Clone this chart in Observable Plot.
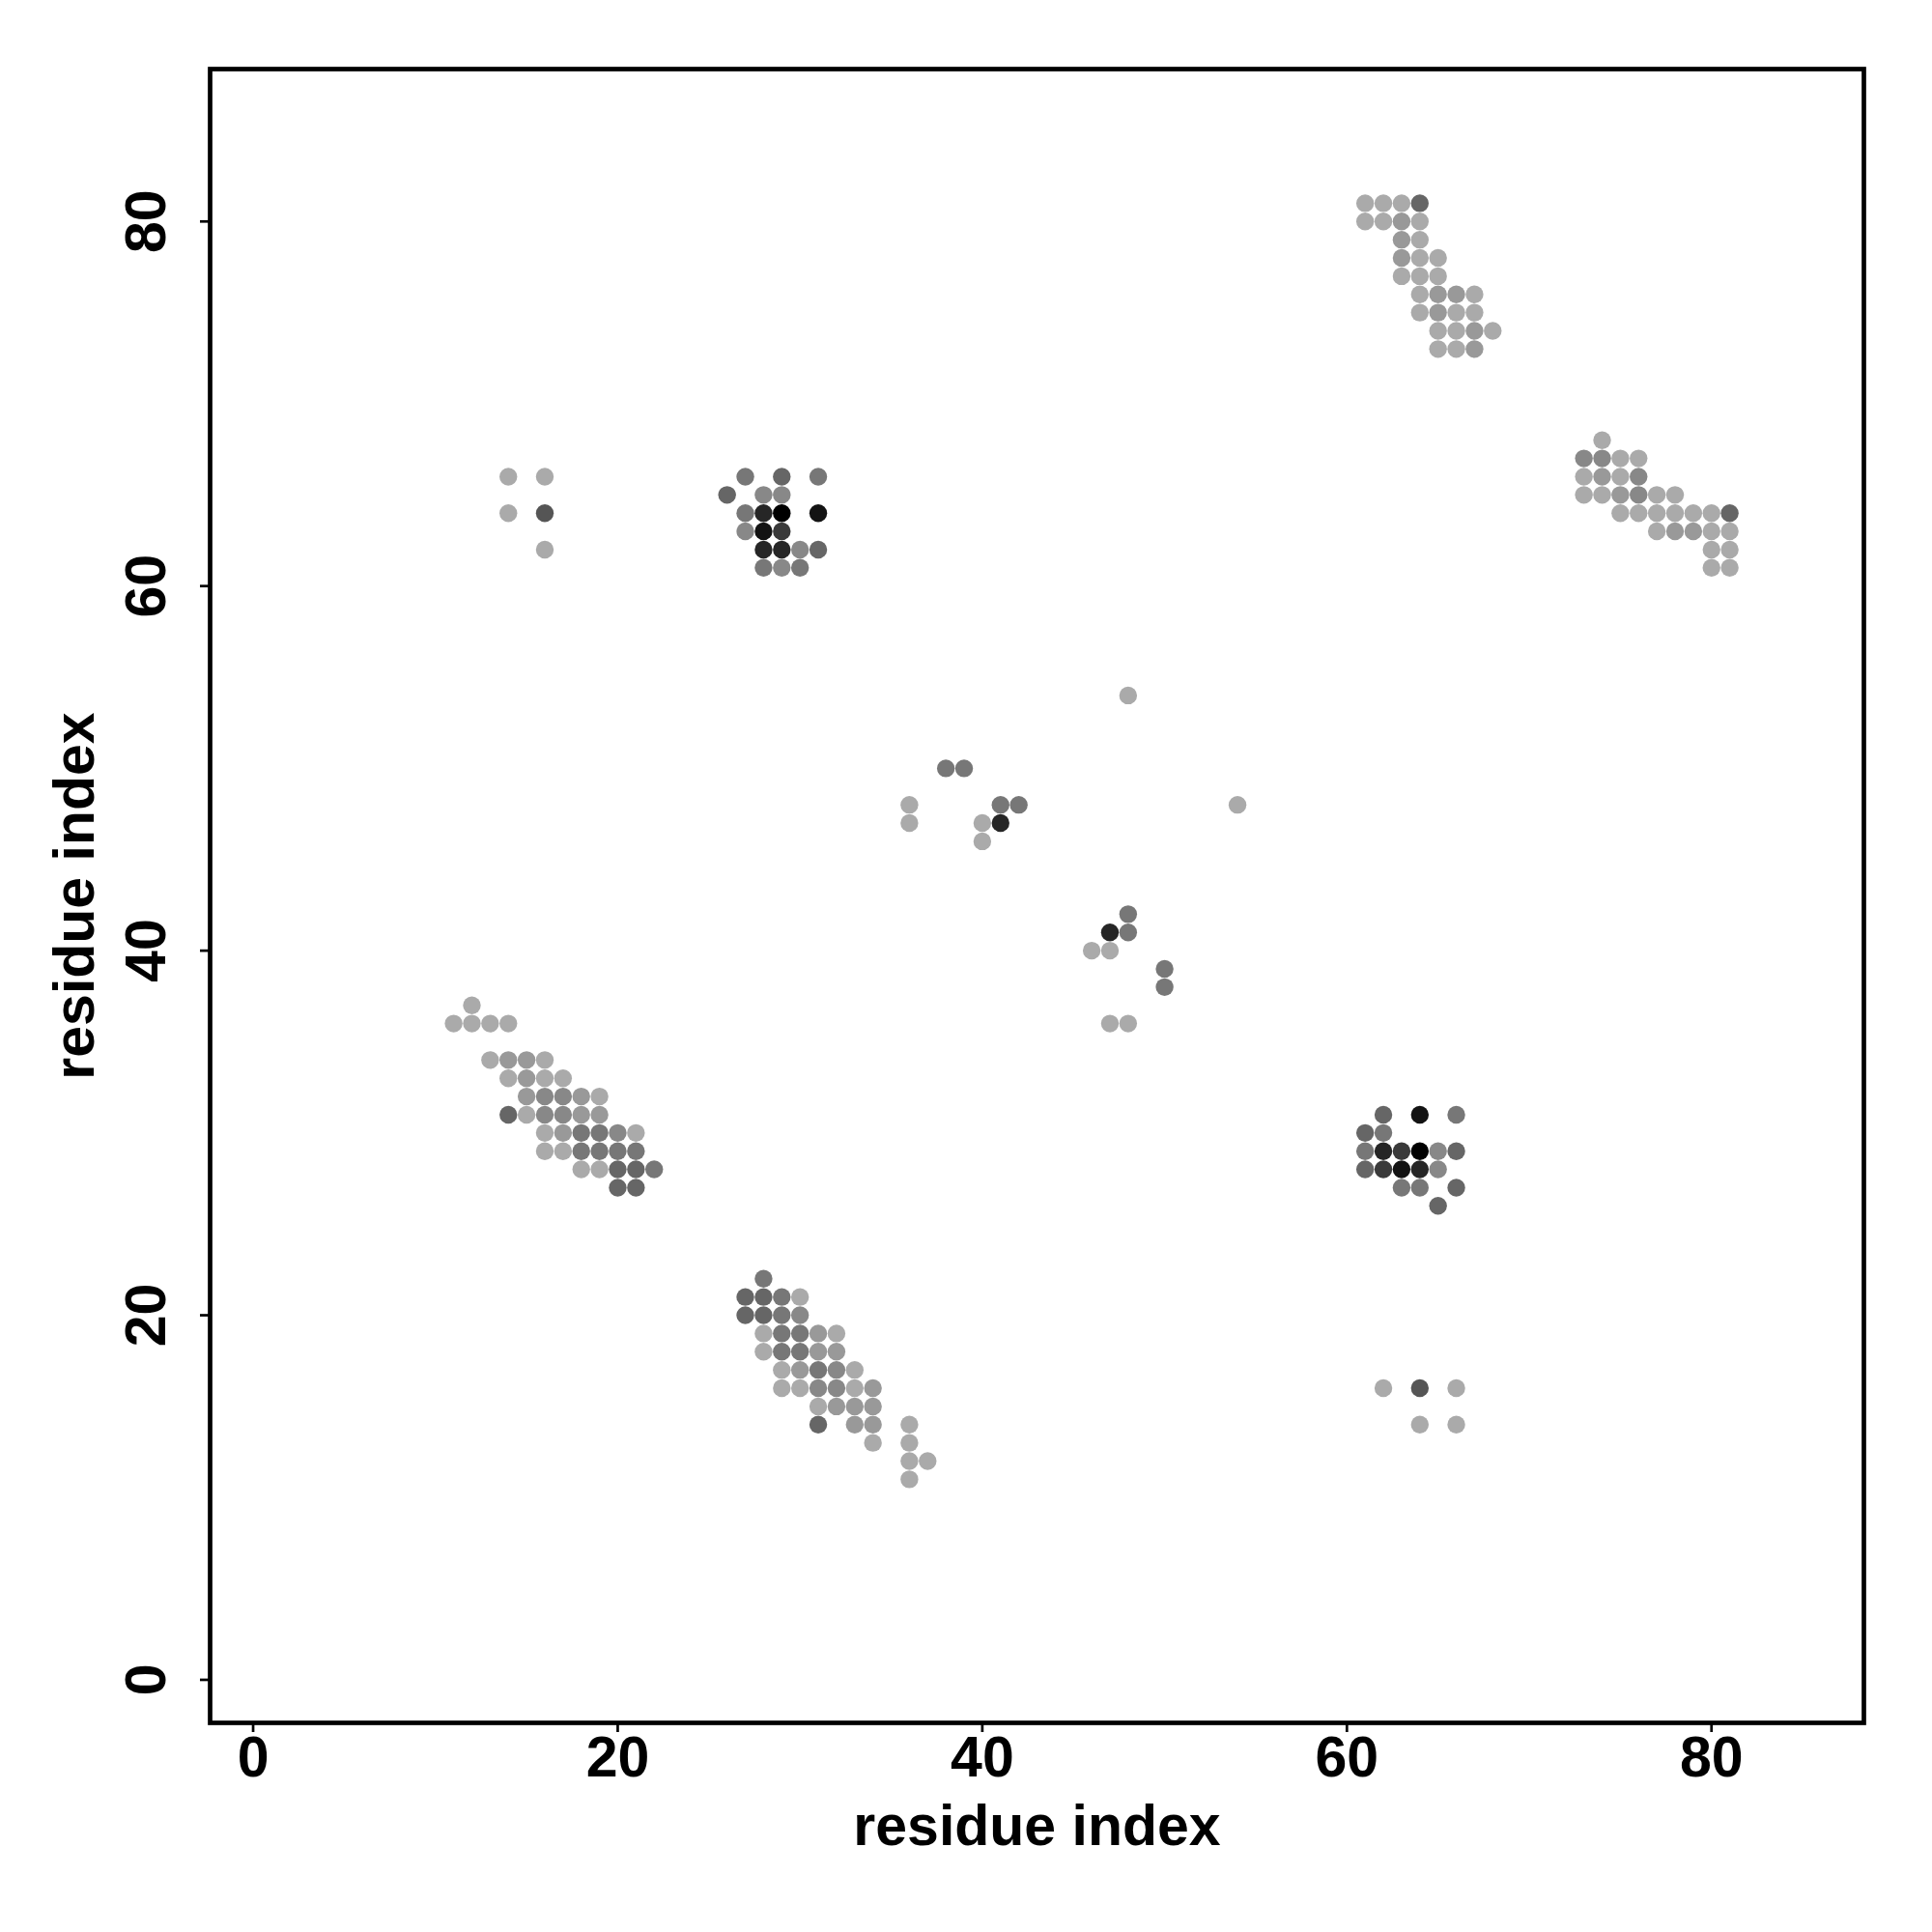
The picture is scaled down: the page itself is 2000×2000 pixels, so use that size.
<!DOCTYPE html>
<html>
<head>
<meta charset="utf-8">
<script src="https://cdn.jsdelivr.net/npm/d3@7"></script>
<script src="https://cdn.jsdelivr.net/npm/@observablehq/plot@0.6"></script>
<style>
  body { margin: 0; background: #ffffff; }
</style>
</head>
<body>
<div id="chart"></div>
<script>
// Each contact: [residue i, residue j, shade level 1 (light) .. 10 (black)]
const helixPairTop = [
  [61,81,1],[62,81,1],[63,81,1],[64,81,5],
  [61,80,1],[62,80,1],[63,80,2],[64,80,1],
  [63,79,2],[64,79,1],
  [63,78,2],[64,78,1],[65,78,1],
  [63,77,1],[64,77,1],[65,77,1],
  [64,76,1],[65,76,2],[66,76,2],[67,76,1],
  [64,75,1],[65,75,2],[66,75,1],[67,75,1],
  [65,74,1],[66,74,1],[67,74,2],[68,74,1],
  [65,73,1],[66,73,1],[67,73,2]
];
const helixPairRight = [
  [74,68,1],
  [73,67,3],[74,67,3],[75,67,1],[76,67,1],
  [73,66,1],[74,66,2],[75,66,1],[76,66,3],
  [73,65,1],[74,65,1],[75,65,2],[76,65,3],[77,65,1],[78,65,1],
  [75,64,1],[76,64,1],[77,64,1],[78,64,1],[79,64,1],[80,64,1],[81,64,5],
  [77,63,1],[78,63,2],[79,63,2],[80,63,1],[81,63,1],
  [80,62,1],[81,62,1],
  [80,61,1],[81,61,1]
];
const patchUpperLeft = [[14,66,1],[16,66,1],[14,64,1],[16,64,6],[16,62,1]];
const patchUpperMid = [
  [27,66,4],[29,66,5],[31,66,4],
  [26,65,5],[28,65,3],[29,65,3],
  [27,64,4],[28,64,8],[29,64,10],[31,64,9],
  [27,63,3],[28,63,9],[29,63,7],
  [28,62,8],[29,62,8],[30,62,3],[31,62,5],
  [28,61,4],[29,61,3],[30,61,4]
];
const patchCentre = [
  [48,54,1],[38,50,4],[39,50,4],[36,48,1],[41,48,4],[42,48,4],[54,48,1],
  [36,47,1],[40,47,1],[41,47,8],[40,46,1]
];
const patchCentreLow = [
  [48,42,4],[47,41,8],[48,41,4],[46,40,1],[47,40,1],[50,39,4],[50,38,4],[47,36,1],[48,36,1]
];
const helixPairLeft = [
  [12,37,1],
  [11,36,1],[12,36,1],[13,36,1],[14,36,1],
  [13,34,1],[14,34,2],[15,34,2],[16,34,1],
  [14,33,1],[15,33,2],[16,33,1],[17,33,1],
  [15,32,2],[16,32,3],[17,32,3],[18,32,2],[19,32,1],
  [14,31,5],[15,31,1],[16,31,3],[17,31,3],[18,31,2],[19,31,2],
  [16,30,1],[17,30,2],[18,30,4],[19,30,4],[20,30,3],[21,30,1],
  [16,29,1],[17,29,1],[18,29,4],[19,29,4],[20,29,4],[21,29,4],
  [18,28,1],[19,28,1],[20,28,5],[21,28,5],[22,28,4],
  [20,27,5],[21,27,5]
];
const patchRightMid = [
  [62,31,5],[64,31,9],[66,31,4],
  [61,30,5],[62,30,4],
  [61,29,4],[62,29,8],[63,29,7],[64,29,10],[65,29,3],[66,29,5],
  [61,28,5],[62,28,7],[63,28,9],[64,28,8],[65,28,3],
  [63,27,4],[64,27,4],[66,27,5],
  [65,26,5]
];
const helixPairBottom = [
  [28,22,4],
  [27,21,5],[28,21,5],[29,21,4],[30,21,1],
  [27,20,5],[28,20,5],[29,20,4],[30,20,3],
  [28,19,1],[29,19,4],[30,19,4],[31,19,2],[32,19,1],
  [28,18,1],[29,18,4],[30,18,4],[31,18,2],[32,18,2],
  [29,17,1],[30,17,2],[31,17,4],[32,17,3],[33,17,1],
  [29,16,1],[30,16,1],[31,16,3],[32,16,3],[33,16,1],[34,16,2],
  [31,15,1],[32,15,2],[33,15,2],[34,15,2],
  [31,14,5],[33,14,2],[34,14,2],[36,14,1],
  [34,13,1],[36,13,1],
  [36,12,1],[37,12,1],
  [36,11,1]
];
const patchLowerRight = [[62,16,1],[64,16,6],[66,16,1],[64,14,1],[66,14,1]];

const shadeLevels = [1,2,3,4,5,6,7,8,9,10];
const shadeColors = ["#aaaaaa","#999999","#888888","#777777","#666666","#555555","#3a3a3a","#262626","#131313","#000000"];
const xTicks = [0, 20, 40, 60, 80];
const yTicks = [0, 20, 40, 60, 80];
const xTitle = "residue index";
const yTitle = "residue index";

const contacts = [
  ...helixPairTop, ...helixPairRight, ...patchUpperLeft, ...patchUpperMid,
  ...patchCentre, ...patchCentreLow, ...helixPairLeft, ...patchRightMid,
  ...helixPairBottom, ...patchLowerRight
].map(([i, j, s]) => ({i, j, s}));

const font = "'Liberation Sans', Arial, Helvetica, sans-serif";

const chart = Plot.plot({
  width: 2000,
  height: 2000,
  marginLeft: 217,
  marginRight: 71,
  marginTop: 71,
  marginBottom: 217,
  x: {domain: [-2.36, 88.36]},
  y: {domain: [-2.36, 88.36]},
  color: {type: "ordinal", domain: shadeLevels, range: shadeColors},
  style: {background: "#ffffff", color: "#000000", fontFamily: font, fontWeight: "bold", fontSize: "59px"},
  marks: [
    Plot.dot(contacts, {x: "i", y: "j", fill: "s", r: 9.2, sort: "s"}),
    Plot.frame({stroke: "#000000", strokeWidth: 4.7}),
    Plot.axisX(xTicks, {tickSize: 10, tickPadding: 4, strokeWidth: 2.7, fontSize: 59, fontWeight: "bold", fontFamily: font, label: null}),
    Plot.axisY(yTicks, {tickSize: 10, tickPadding: 37, tickRotate: -90, strokeWidth: 2.7, fontSize: 59, fontWeight: "bold", fontFamily: font, label: null}),
    Plot.text([xTitle], {text: d => d, frameAnchor: "bottom", dy: 126, lineAnchor: "bottom", textAnchor: "middle", fontSize: 59, fontWeight: "bold", fontFamily: font}),
    Plot.text([yTitle], {text: d => d, frameAnchor: "left", dx: -121, rotate: -90, lineAnchor: "bottom", textAnchor: "middle", fontSize: 59, fontWeight: "bold", fontFamily: font})
  ]
});
document.getElementById("chart").appendChild(chart);
</script>
</body>
</html>
